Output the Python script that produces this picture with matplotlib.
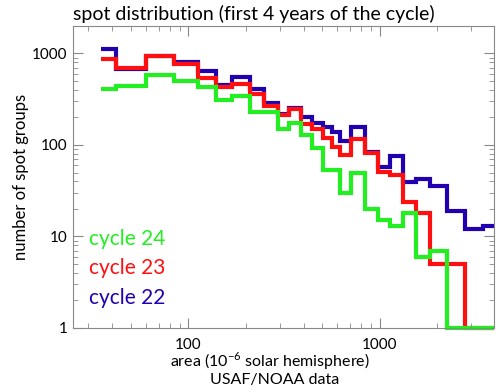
import numpy as np
import matplotlib
matplotlib.use("Agg")
import matplotlib.pyplot as plt
from matplotlib.ticker import FixedLocator, NullFormatter, LogLocator

# bin edges (area, 10^-6 solar hemisphere)
edges = [35, 42, 60, 84, 112, 140, 170, 210, 250, 295, 335, 390, 445, 505,
         560, 620, 705, 835, 980, 1130, 1320, 1540, 1830, 2240, 2800, 3450, 3950]

# number of spot groups per bin
cycle22 = [1110, 670, 930, 810, 640, 450, 550, 410, 290, 220, 255, 200, 175,
           158, 137, 110, 156, 83, 57, 76, 39, 42, 36, 19, 12, 13]
cycle23 = [870, 700, 930, 760, 540, 430, 460, 365, 270, 210, 245, 170, 150,
           118, 95, 77, 116, 81, 51, 47, 24, 18, 5, 5, 1, 1]
cycle24 = [407, 443, 580, 500, 425, 310, 340, 230, 230, 150, 172, 128, 92,
           53, 53, 30, 50, 20, 15, 13, 18, 6, 7, 1, 1, 1]

col22 = "#2200b0"
col23 = "#ff1010"
col24 = "#22ee22"

plt.rcParams['font.family'] = ['Lato', 'DejaVu Sans']

fig = plt.figure(figsize=(5, 3.87), dpi=100)
ax = fig.add_axes([0.146, 0.1525, 0.842, 0.7805])

ax.stairs(cycle22, edges, baseline=None, color=col22, lw=3, clip_on=False)
ax.stairs(cycle23, edges, baseline=None, color=col23, lw=3, clip_on=False)
ax.stairs(cycle24, edges, baseline=None, color=col24, lw=3, clip_on=False)

ax.set_xscale('log')
ax.set_yscale('log')
ax.set_xlim(25, 3950)
ax.set_ylim(1, 2000)

ax.xaxis.set_major_locator(FixedLocator([100, 1000]))
ax.set_xticklabels(["100", "1000"])
ax.xaxis.set_minor_locator(LogLocator(base=10, subs=np.arange(2, 10)))
ax.xaxis.set_minor_formatter(NullFormatter())
ax.yaxis.set_major_locator(FixedLocator([1, 10, 100, 1000]))
ax.set_yticklabels(["1", "10", "100", "1000"])
ax.yaxis.set_minor_locator(LogLocator(base=10, subs=np.arange(2, 10)))
ax.yaxis.set_minor_formatter(NullFormatter())

ax.tick_params(which='both', direction='in', top=True, right=True,
               color='#888888', labelsize=11)
ax.tick_params(which='major', length=7, width=0.8)
ax.tick_params(which='minor', length=3.5, width=0.6)
ax.tick_params(axis='x', pad=7)
ax.tick_params(axis='y', pad=4)
for s in ax.spines.values():
    s.set_color('#888888')
    s.set_linewidth(0.8)

ax.set_ylabel("number of spot groups", fontsize=12, labelpad=2)

fig.text(0.54, 0.066, "area (10$^{\\mathregular{-6}}$ solar hemisphere)",
         ha='center', va='center', fontsize=11.5)
fig.text(0.55, 0.019, "USAF/NOAA data", ha='center', va='center', fontsize=11.5)

fig.text(0.508, 0.965, "spot distribution (first 4 years of the cycle)",
         ha='center', va='center', fontsize=14)

ax.text(0.037, 0.293, "cycle 24", color=col24, fontsize=15,
        transform=ax.transAxes, va='center')
ax.text(0.037, 0.200, "cycle 23", color=col23, fontsize=15,
        transform=ax.transAxes, va='center')
ax.text(0.037, 0.100, "cycle 22", color=col22, fontsize=15,
        transform=ax.transAxes, va='center')

fig.savefig("out.png", dpi=100)
